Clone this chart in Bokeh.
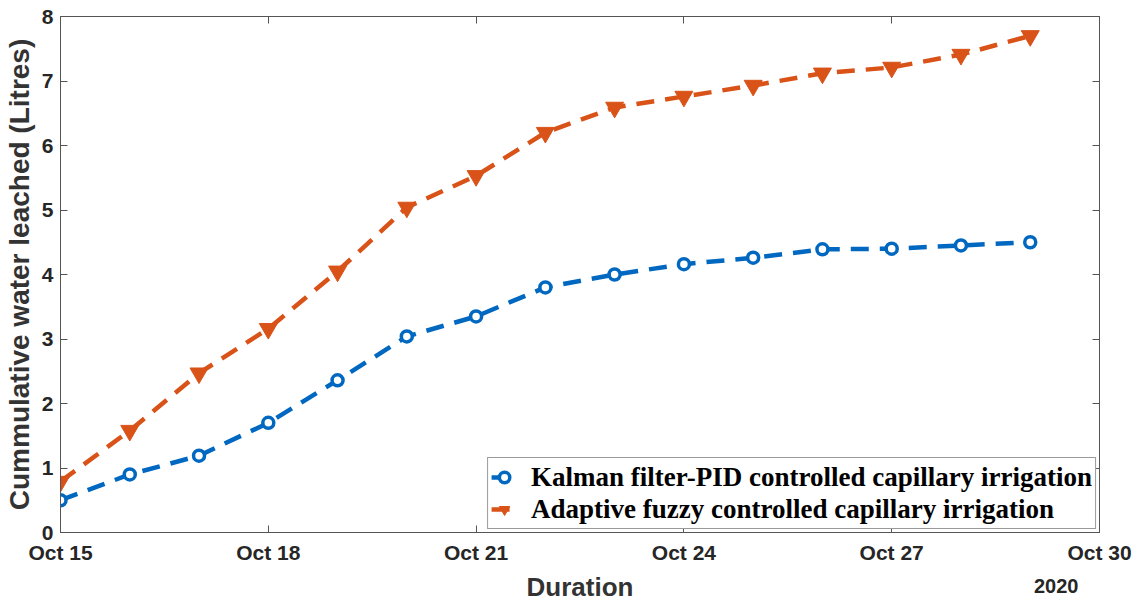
from datetime import datetime
from bokeh.plotting import figure
from bokeh.models import (Range1d, FixedTicker, DatetimeTickFormatter, LinearAxis,
                          DatetimeAxis, CustomJSTickFormatter, ColumnDataSource)
from bokeh.embed import file_html
from bokeh.resources import INLINE

# ---- data ----
dates = [datetime(2020, 10, d) for d in range(15, 30)]
kalman_pid = [0.50, 0.90, 1.19, 1.70, 2.36, 3.04, 3.35, 3.80, 4.00, 4.16, 4.26, 4.39, 4.40, 4.45, 4.50]
adaptive_fuzzy = [0.79, 1.58, 2.47, 3.16, 4.05, 5.04, 5.53, 6.20, 6.59, 6.76, 6.93, 7.12, 7.21, 7.41, 7.70]
x_tick_dates = [datetime(2020, 10, d) for d in (15, 18, 21, 24, 27, 30)]
y_ticks = [0, 1, 2, 3, 4, 5, 6, 7, 8]
series_names = ["Kalman filter-PID controlled capillary irrigation",
                "Adaptive fuzzy controlled capillary irrigation"]
year_text = "2020"
year_pos = datetime(2020, 10, 29, 9)

BLUE = "#0068C0"
ORANGE = "#D95319"
AX = "#555555"
TXT = "#262626"

def ms(d):
    return (d - datetime(1970, 1, 1)).total_seconds() * 1000.0

src = ColumnDataSource(dict(x=dates, k=kalman_pid, a=adaptive_fuzzy))

p = figure(width=1137, height=604, x_axis_type="datetime",
           x_range=Range1d(datetime(2020, 10, 15), datetime(2020, 10, 30)),
           y_range=Range1d(0, 8), output_backend="svg", toolbar_location=None,
           min_border_left=60, min_border_right=38, min_border_top=16, min_border_bottom=72)
p.background_fill_color = "white"
p.border_fill_color = "white"
p.outline_line_color = AX
p.grid.visible = False

xticker = FixedTicker(ticks=[ms(d) for d in x_tick_dates])
yticker = FixedTicker(ticks=y_ticks)

xa = p.xaxis[0]
xa.ticker = xticker
xa.formatter = DatetimeTickFormatter(days="%b %d", months="%b %d", hours="%b %d")
ya = p.yaxis[0]
ya.ticker = yticker
ya.axis_label = "Cummulative water leached (Litres)"

for ax in (xa, ya):
    ax.axis_line_color = AX
    ax.major_tick_line_color = AX
    ax.major_tick_in = 7
    ax.major_tick_out = 0
    ax.minor_tick_line_color = None
    ax.major_label_text_font = "Liberation Sans"
    ax.major_label_text_font_style = "bold"
    ax.major_label_text_font_size = "21px"
    ax.major_label_text_color = TXT
    ax.axis_label_text_font = "Liberation Sans"
    ax.axis_label_text_font_style = "bold"
    ax.axis_label_text_color = "#333333"
ya.axis_label_text_font_size = "28px"
xa.major_label_standoff = 8
ya.major_label_standoff = 7
ya.axis_label_standoff = 4

# second bottom axis: carries the "2020" context label and the axis title
xb = DatetimeAxis(ticker=FixedTicker(ticks=[ms(year_pos)]),
                  formatter=DatetimeTickFormatter(days="%Y", hours="%Y", months="%Y"),
                  axis_line_color=None, major_tick_line_color=None,
                  minor_tick_line_color=None, major_tick_in=0, major_tick_out=0,
                  major_label_standoff=12,
                  major_label_text_font="Liberation Sans",
                  major_label_text_font_style="bold",
                  major_label_text_font_size="20px", major_label_text_color=TXT,
                  axis_label="Duration", axis_label_standoff=-24,
                  axis_label_text_font="Liberation Sans",
                  axis_label_text_font_style="bold",
                  axis_label_text_font_size="26px", axis_label_text_color="#333333")
p.add_layout(xb, "below")

blank = CustomJSTickFormatter(code="return ''")
top = DatetimeAxis(ticker=xticker, formatter=blank, major_tick_in=7, major_tick_out=0,
                   minor_tick_line_color=None, axis_line_color=AX,
                   major_tick_line_color=AX, major_label_standoff=0)
right = LinearAxis(ticker=yticker, formatter=blank, major_tick_in=7, major_tick_out=0,
                   minor_tick_line_color=None, axis_line_color=AX,
                   major_tick_line_color=AX, major_label_standoff=0)
p.add_layout(top, "above")
p.add_layout(right, "right")

p.line("x", "k", source=src, line_color=BLUE, line_width=4.5, line_dash="18 11",
       legend_label=series_names[0])
p.scatter("x", "k", source=src, marker="circle", size=11, line_color=BLUE, line_width=3.5,
          fill_color="white", legend_label=series_names[0])
p.line("x", "a", source=src, line_color=ORANGE, line_width=4.5, line_dash="18 11",
       legend_label=series_names[1])
p.scatter("x", "a", source=src, marker="inverted_triangle", size=18, line_color=ORANGE,
          fill_color=ORANGE, legend_label=series_names[1])

lg = p.legend[0]
lg.location = "bottom_right"
lg.margin = 3
lg.padding = 3
lg.spacing = 0
lg.border_line_color = "#333333"
lg.border_line_width = 1
lg.background_fill_alpha = 1
lg.label_text_font = "Liberation Serif"
lg.label_text_font_style = "bold"
lg.label_text_font_size = "27px"
lg.label_text_color = "black"
lg.glyph_width = 26
lg.glyph_height = 32
lg.label_height = 32
lg.label_standoff = 14

open("out.html", "w").write(file_html(p, INLINE))
